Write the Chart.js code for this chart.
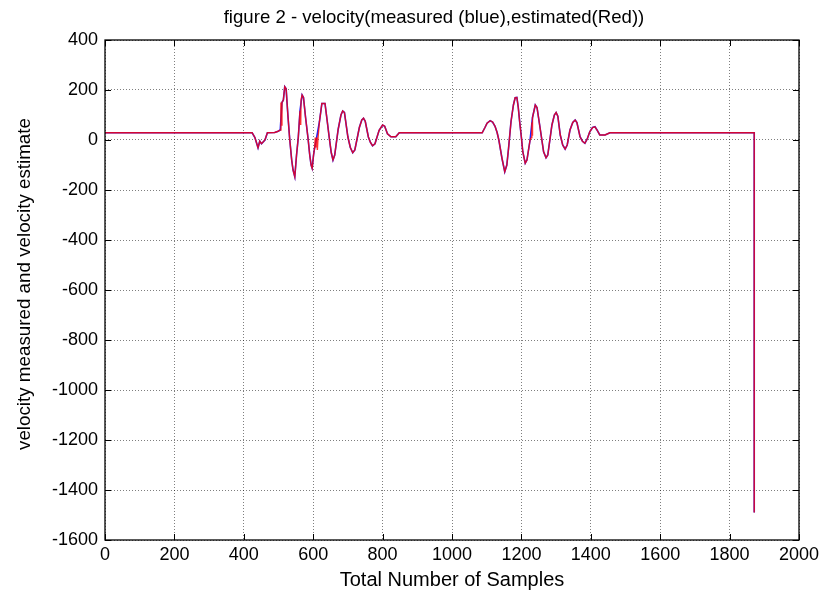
<!DOCTYPE html>
<html>
<head>
<meta charset="utf-8">
<script src="https://cdn.jsdelivr.net/npm/chart.js@4.4.1/dist/chart.umd.min.js"></script>
<style>
html,body{margin:0;padding:0;background:#fff;}
#wrap{width:827px;height:598px;position:relative;}
</style>
</head>
<body>
<div id="wrap"><canvas id="c" width="827" height="598"></canvas></div>
<script>
const chartTitle = "figure 2 - velocity(measured (blue),estimated(Red))";
const xTitle = "Total Number of Samples";
const yTitle = "velocity measured and velocity estimate";
const xTicks = [0,200,400,600,800,1000,1200,1400,1600,1800,2000];
const yTicks = [400,200,0,-200,-400,-600,-800,-1000,-1200,-1400,-1600];

const measured = [[0,29],[424,29],[432,10],[441,-31],[446,-5],[451,-15],[461,0],[468,29],[489,30],[499,35],[505,40],[510,150],[514,160],[518,213],[522,205],[527,100],[532,8],[538,-80],[542,-120],[547,-147],[552,-60],[557,10],[562,117],[568,180],[572,170],[578,90],[585,8],[590,-60],[594,-100],[597,-113],[601,-60],[604,-33],[610,10],[618,73],[625,146],[634,146],[640,80],[646,12],[652,-50],[657,-80],[662,-60],[672,43],[680,100],[685,116],[690,110],[700,12],[707,-30],[714,-51],[720,-40],[733,50],[740,80],[745,87],[750,75],[759,12],[765,-10],[771,-23],[778,-15],[790,39],[800,60],[806,55],[814,25],[824,13],[838,13],[848,29],[1087,29],[1095,50],[1101,67],[1110,77],[1117,72],[1124,55],[1130,30],[1135,0],[1144,-73],[1152,-127],[1158,-100],[1163,-33],[1170,73],[1177,140],[1182,169],[1187,170],[1191,130],[1195,73],[1200,10],[1204,-47],[1211,-93],[1216,-80],[1225,0],[1232,90],[1240,140],[1245,130],[1254,47],[1264,-47],[1271,-71],[1276,-60],[1288,60],[1295,100],[1300,110],[1305,95],[1312,20],[1319,-20],[1326,-36],[1332,-20],[1340,40],[1348,70],[1355,80],[1360,70],[1369,13],[1376,-5],[1383,-13],[1390,5],[1397,33],[1405,50],[1412,53],[1418,40],[1426,20],[1441,20],[1455,29],[1871,29],[1871,-1490]];

const estimated = [[0,29],[424,29],[432,10],[441,-31],[446,-5],[451,-15],[461,0],[468,29],[489,30],[499,35],[505,40],[507,150],[508,60],[510,150],[514,160],[518,213],[522,205],[527,100],[532,8],[538,-80],[542,-120],[547,-147],[552,-60],[557,10],[562,117],[564,60],[565,160],[568,180],[572,170],[578,90],[585,8],[590,-60],[594,-100],[597,-113],[601,-60],[604,-33],[606,10],[608,-30],[610,10],[612,-40],[614,10],[618,73],[625,146],[634,146],[640,80],[646,12],[652,-50],[657,-80],[662,-60],[672,43],[680,100],[685,116],[690,110],[700,12],[707,-30],[714,-51],[720,-40],[733,50],[740,80],[745,87],[750,75],[759,12],[765,-10],[771,-23],[778,-15],[790,39],[800,60],[806,55],[814,25],[824,13],[838,13],[848,29],[1087,29],[1095,50],[1101,67],[1110,77],[1117,72],[1124,55],[1130,30],[1135,0],[1144,-73],[1152,-127],[1158,-100],[1163,-33],[1170,73],[1177,140],[1182,169],[1187,170],[1191,130],[1195,73],[1200,10],[1204,-47],[1211,-93],[1216,-80],[1225,0],[1229,10],[1230,70],[1231,20],[1232,90],[1240,140],[1245,130],[1254,47],[1264,-47],[1271,-71],[1276,-60],[1288,60],[1295,100],[1300,110],[1305,95],[1312,20],[1319,-20],[1326,-36],[1332,-20],[1340,40],[1348,70],[1355,80],[1360,70],[1369,13],[1376,-5],[1383,-13],[1390,5],[1397,33],[1405,50],[1412,53],[1418,40],[1426,20],[1441,20],[1455,29],[1871,29],[1871,-1490]];

const toXY = arr => arr.map(p => ({x:p[0], y:p[1]}));
const FONT = '"Liberation Sans", Arial, sans-serif';

const matlabDecor = {
  id:'matlabDecor',
  afterDraw(chart){
    const {ctx, chartArea:a, scales:{x, y}} = chart;
    ctx.save();
    ctx.strokeStyle = '#000';
    ctx.lineWidth = 1.3;
    ctx.strokeRect(a.left, a.top, a.right - a.left, a.bottom - a.top);
    ctx.lineWidth = 1;
    ctx.beginPath();
    xTicks.forEach(v => {
      const px = Math.round(x.getPixelForValue(v)) + 0.5;
      ctx.moveTo(px, a.bottom); ctx.lineTo(px, a.bottom - 6);
      ctx.moveTo(px, a.top); ctx.lineTo(px, a.top + 6);
    });
    yTicks.forEach(v => {
      const py = Math.round(y.getPixelForValue(v)) + 0.5;
      ctx.moveTo(a.left, py); ctx.lineTo(a.left + 6, py);
      ctx.moveTo(a.right, py); ctx.lineTo(a.right - 6, py);
    });
    ctx.stroke();
    ctx.fillStyle = '#000';
    ctx.font = '18px ' + FONT;
    ctx.textAlign = 'center';
    ctx.textBaseline = 'middle';
    xTicks.forEach(v => {
      ctx.fillText(String(v), x.getPixelForValue(v), a.bottom + 15);
    });
    ctx.textAlign = 'right';
    yTicks.forEach(v => {
      ctx.fillText(String(v), a.left - 7, y.getPixelForValue(v));
    });
    ctx.textAlign = 'center';
    ctx.font = '20px ' + FONT;
    ctx.fillText(xTitle, (a.left + a.right)/2, 580);
    ctx.save();
    ctx.translate(25, 284);
    ctx.rotate(-Math.PI/2);
    ctx.font = '18.8px ' + FONT;
    ctx.fillText(yTitle, 0, 0);
    ctx.restore();
    ctx.font = '18.6px ' + FONT;
    ctx.fillText(chartTitle, 434, 18);
    ctx.restore();
  }
};

new Chart(document.getElementById('c'), {
  type:'scatter',
  data:{
    datasets:[
      {label:'measured', order:2, data:toXY(measured), showLine:true, borderColor:'#2020ff', borderWidth:1.6, pointRadius:0, tension:0},
      {label:'estimated', order:1, data:toXY(estimated), showLine:true, borderColor:'rgba(255,0,0,0.8)', borderWidth:1.4, pointRadius:0, tension:0}
    ]
  },
  options:{
    responsive:false,
    animation:false,
    events:[],
    layout:{padding:{top:40, right:28, left:0, bottom:0}},
    plugins:{legend:{display:false}, title:{display:false}, tooltip:{enabled:false}},
    scales:{
      x:{type:'linear', min:0, max:2000,
         afterBuildTicks(s){ s.ticks = xTicks.map(v => ({value:v})); },
         afterFit(s){ s.height = 58; },
         ticks:{display:false},
         grid:{color:'rgba(0,0,0,0.5)', lineWidth:1, drawTicks:false},
         border:{display:false, dash:[1,2]}},
      y:{type:'linear', min:-1600, max:400,
         afterBuildTicks(s){ s.ticks = yTicks.map(v => ({value:v})); },
         afterFit(s){ s.width = 105; },
         ticks:{display:false},
         grid:{color:'rgba(0,0,0,0.5)', lineWidth:1, drawTicks:false},
         border:{display:false, dash:[1,2]}}
    }
  },
  plugins:[matlabDecor]
});
</script>
</body>
</html>
